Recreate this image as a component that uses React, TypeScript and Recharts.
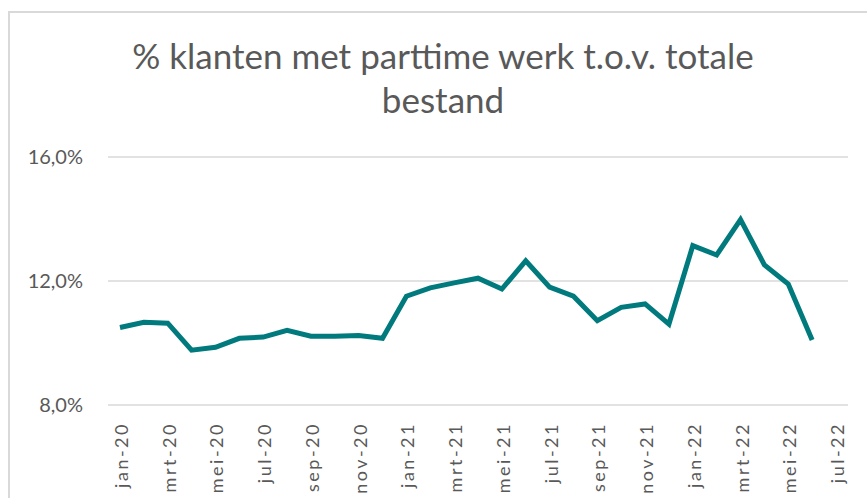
import { CartesianGrid, Line, LineChart, XAxis, YAxis } from "recharts";

const months = [
  "jan-20", "feb-20", "mrt-20", "apr-20", "mei-20", "jun-20", "jul-20", "aug-20", "sep-20", "okt-20", "nov-20", "dec-20",
  "jan-21", "feb-21", "mrt-21", "apr-21", "mei-21", "jun-21", "jul-21", "aug-21", "sep-21", "okt-21", "nov-21", "dec-21",
  "jan-22", "feb-22", "mrt-22", "apr-22", "mei-22", "jun-22", "jul-22",
];

const shares: (number | null)[] = [
  10.5, 10.67, 10.64, 9.77, 9.86, 10.15, 10.19, 10.41, 10.22, 10.22, 10.24, 10.15,
  11.51, 11.78, 11.94, 12.09, 11.74, 12.65, 11.8, 11.51, 10.72, 11.15, 11.26, 10.61,
  13.14, 12.84, 13.98, 12.52, 11.9, 10.1, null,
];

const yTicks = [8, 12, 16];

const data = months.map((m, i) => ({ month: m, share: shares[i] }));

const grey = "#595959";
const font = "Lato, sans-serif";

function MonthTick({ x, y, payload }: any) {
  const ty = y + 9;
  return (
    <text
      x={x + 1}
      y={ty}
      transform={`rotate(-90, ${x + 1}, ${ty})`}
      textAnchor="end"
      dominantBaseline="central"
      fill={grey}
      fontSize={18}
      letterSpacing={2.5}
      fontFamily={font}
    >
      {payload.value}
    </text>
  );
}

export default function App() {
  return (
    <div style={{ position: "absolute", left: 0, top: 0, width: 867, height: 498, background: "#fff", overflow: "hidden" }}>
      <div
        style={{
          position: "absolute",
          left: 8,
          top: 11,
          width: 900,
          height: 520,
          border: "2px solid #d9d9d9",
        }}
      />
      <div
        style={{
          position: "absolute",
          left: 0,
          top: 33,
          width: 886,
          textAlign: "center",
          color: grey,
          fontFamily: font,
          fontSize: 35,
          lineHeight: "44px",
        }}
      >
        % klanten met parttime werk t.o.v. totale
        <br />
        bestand
      </div>
      <div style={{ position: "absolute", left: 0, top: 0 }}>
        <LineChart width={867} height={498} data={data} margin={{ top: 157, right: 19, bottom: 0, left: 0 }}>
          <CartesianGrid stroke="#d9d9d9" strokeWidth={1.5} vertical={false} />
          <XAxis
            dataKey="month"
            interval={1}
            axisLine={false}
            tickLine={false}
            tick={<MonthTick />}
            padding={{ left: 12, right: 12 }}
            height={93}
          />
          <YAxis
            domain={[8, 16]}
            ticks={yTicks}
            width={108}
            axisLine={false}
            tickLine={false}
            tickMargin={19}
            tickFormatter={(v: number) => `${v.toFixed(1).replace(".", ",")}%`}
            tick={{ fill: grey, fontSize: 20, fontFamily: font }}
          />
          <Line
            type="linear"
            dataKey="share"
            stroke="#007a7d"
            strokeWidth={5}
            dot={false}
            isAnimationActive={false}
          />
        </LineChart>
      </div>
    </div>
  );
}
